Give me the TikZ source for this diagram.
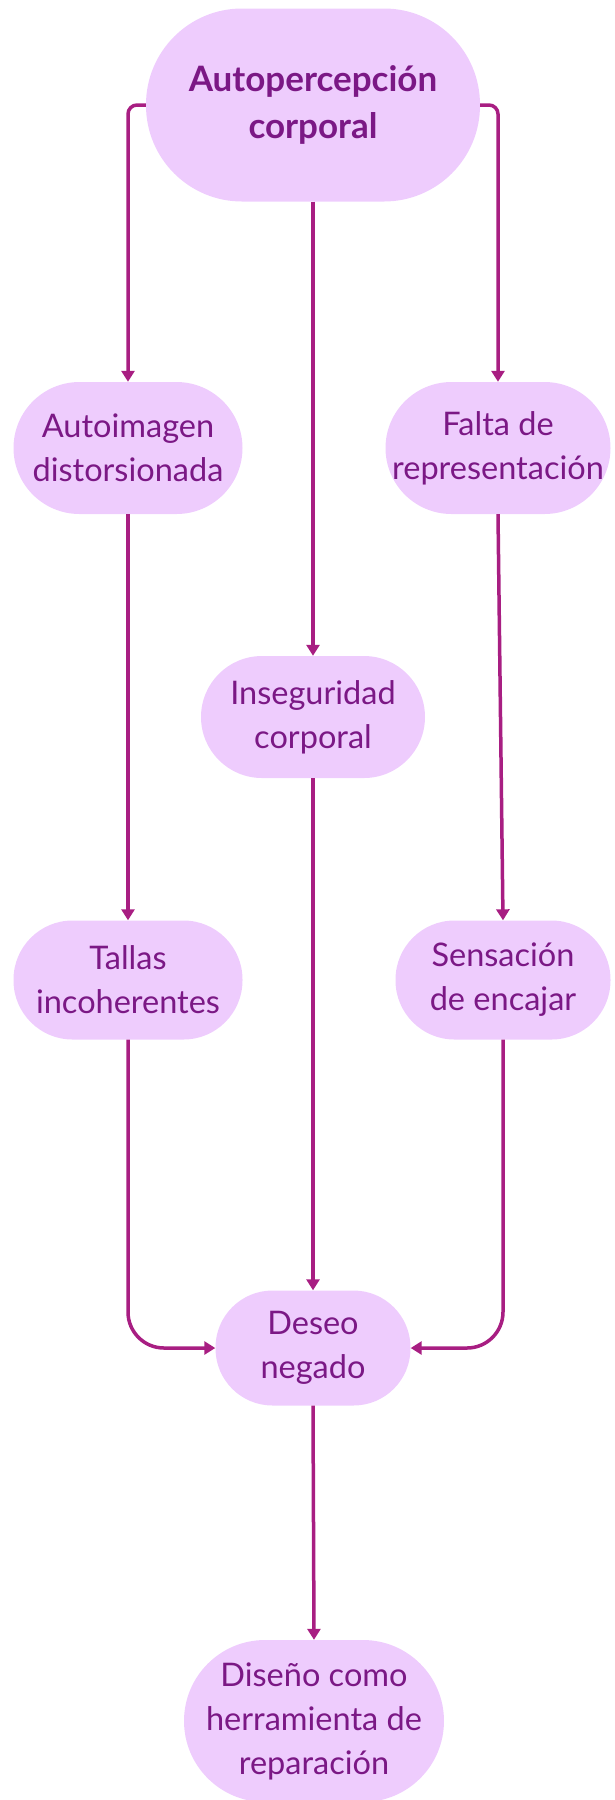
\documentclass[tikz,border=0pt]{standalone}
\usepackage{fontspec}
\setmainfont{Lato}
\usepackage{xcolor}
\usepackage{tikz}
\usetikzlibrary{arrows.meta}
\definecolor{pillfill}{RGB}{238,204,253}
\definecolor{pilltext}{RGB}{123,24,133}
\definecolor{linkcol}{RGB}{168,30,130}
\begin{document}
\begin{tikzpicture}[x=1pt,y=-1pt,
    pill/.style={rectangle, fill=pillfill, text=pilltext, align=center, inner sep=0pt,
        font=\fontsize{32.5}{44}\selectfont},
    link/.style={draw=linkcol, line width=3.5pt, -{Triangle[length=11pt,width=13pt]}}]
    \useasboundingbox (0,0) rectangle (614,1800);
    \node [pill, minimum width=334pt, minimum height=193pt, rounded corners=96pt,
        font=\fontsize{35}{47}\selectfont\bfseries] (top) at (313,105) {Autopercepción\\corporal};
    \node [pill, minimum width=229pt, minimum height=132pt, rounded corners=66pt] (autoimg) at (128,448) {Autoimagen\\distorsionada};
    \node [pill, minimum width=225pt, minimum height=132pt, rounded corners=66pt] (falta) at (498,448) {Falta de\\representación};
    \node [pill, minimum width=224pt, minimum height=122pt, rounded corners=61pt] (inseg) at (313,717) {Inseguridad\\corporal};
    \node [pill, minimum width=229pt, minimum height=119pt, rounded corners=59pt] (tallas) at (128,980) {Tallas\\incoherentes};
    \node [pill, minimum width=215pt, minimum height=119pt, rounded corners=59pt] (sensa) at (503,980) {Sensación\\de encajar};
    \node [pill, minimum width=195pt, minimum height=115pt, rounded corners=57pt] (deseo) at (313,1348) {Deseo\\negado};
    \node [pill, minimum width=260pt, minimum height=162pt, rounded corners=81pt] (diseno) at (314,1721) {Diseño como\\herramienta de\\reparación};
    \draw [link, rounded corners=9pt] (top.west) -| (autoimg.north);
    \draw [link, rounded corners=9pt] (top.east) -| (falta.north);
    \draw [link] (top.south) -- (inseg.north);
    \draw [link] (autoimg.south) -- (tallas.north);
    \draw [link] (falta.south) -- (sensa.north);
    \draw [link] (inseg.south) -- (deseo.north);
    \draw [link, rounded corners=36pt] (tallas.south) |- (deseo.west);
    \draw [link, rounded corners=36pt] (sensa.south) |- (deseo.east);
    \draw [link] (deseo.south) -- (diseno.north);
\end{tikzpicture}
\end{document}
